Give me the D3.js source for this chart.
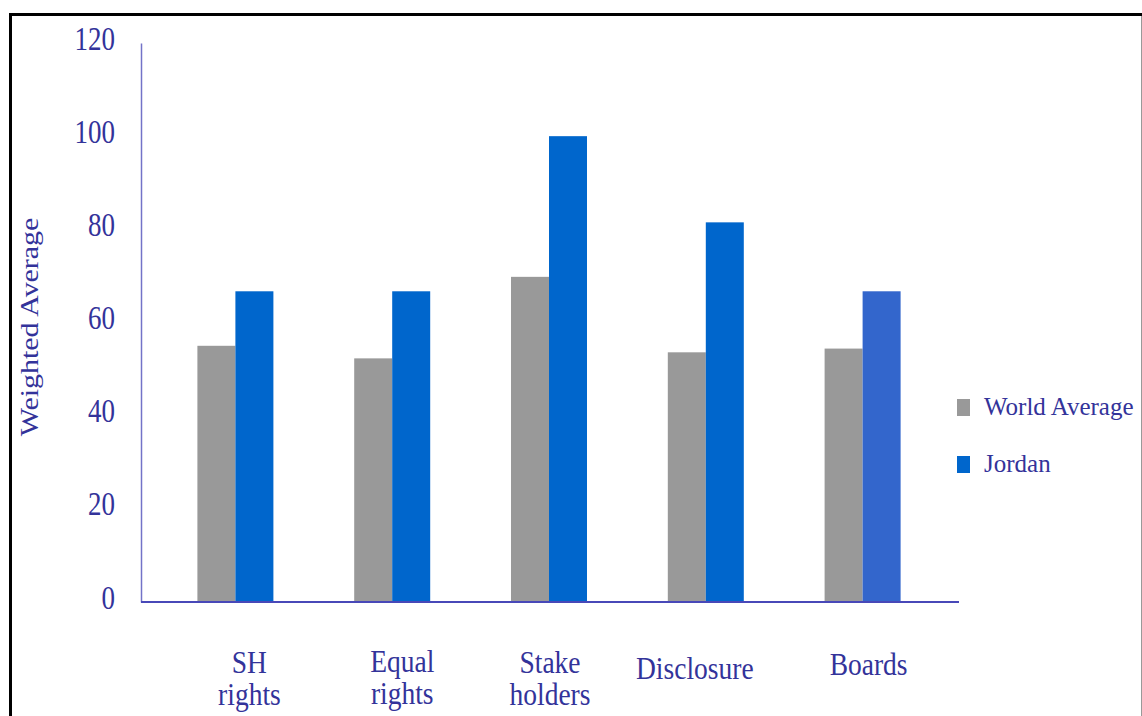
<!DOCTYPE html>
<html>
<head>
<meta charset="utf-8">
<script src="https://cdn.jsdelivr.net/npm/d3@7"></script>
<style>
  body { margin: 0; background: #fff; }
  svg text { font-family: "Liberation Serif", "Times New Roman", Times, serif; fill: #33339a; }
</style>
</head>
<body>
<svg id="chart" width="1142" height="716"></svg>
<script>
// data
const categories = ['SH rights', 'Equal rights', 'Stake holders', 'Disclosure', 'Boards'];
const categoryLines = [['SH', 'rights'], ['Equal', 'rights'], ['Stake', 'holders'], ['Disclosure'], ['Boards']];
const seriesNames = ['World Average', 'Jordan'];
const worldAverage = [55, 52.3, 69.8, 53.6, 54.4];
const jordan = [66.7, 66.7, 100, 81.5, 66.7];
const yTicks = [0, 20, 40, 60, 80, 100, 120];

const serif = '"Liberation Serif", "Times New Roman", Times, serif';
const seriesColors = ['#999999', '#0066cc'];
// the last Jordan bar is drawn in a slightly lighter blue in the original
const jordanOverride = { 'Boards': '#3366cc' };
// the category labels sit a little off the group centres
const labelNudge = [13, 9, 0, -12, 5];
const labelBaseline = [673, 672, 673, 679, 675];

const svg = d3.select('#chart');

// frame
svg.append('line').attr('x1', 10.5).attr('x2', 10.5).attr('y1', 13).attr('y2', 716)
	.attr('stroke', '#000').attr('stroke-width', 3);
svg.append('line').attr('x1', 9).attr('x2', 1142).attr('y1', 14.5).attr('y2', 14.5)
	.attr('stroke', '#000').attr('stroke-width', 3);
svg.append('line').attr('x1', 1141.5).attr('x2', 1141.5).attr('y1', 16).attr('y2', 716)
	.attr('stroke', '#999').attr('stroke-width', 1);

const y = d3.scaleLinear().domain([0, 120]).range([602, 43]);
const x = d3.scaleBand().domain(categories).range([158, 942]);
const inner = d3.scaleBand().domain(seriesNames).range([-39, 37]);

const rows = categories.map((c, i) => ({ cat: c, values: [worldAverage[i], jordan[i]] }));

const groups = svg.append('g')
	.selectAll('g.group')
	.data(rows)
	.enter().append('g')
	.attr('class', 'group')
	.attr('transform', d => `translate(${x(d.cat) + x.bandwidth() / 2},0)`);

groups.selectAll('rect')
	.data(d => d.values.map((v, k) => ({ cat: d.cat, series: seriesNames[k], k, v })))
	.enter().append('rect')
	.attr('x', d => inner(d.series))
	.attr('width', inner.bandwidth())
	.attr('y', d => y(d.v))
	.attr('height', d => y(0) - y(d.v))
	.attr('fill', d => d.k === 1 && jordanOverride[d.cat] ? jordanOverride[d.cat] : seriesColors[d.k]);

// y axis
const yAxis = svg.append('g')
	.attr('transform', 'translate(141,0)')
	.call(d3.axisLeft(y).tickValues(yTicks).tickSize(0).tickPadding(26));
yAxis.attr('font-family', serif);
yAxis.select('.domain').attr('stroke', '#7373c8').attr('stroke-width', 1.5);
yAxis.selectAll('text')
	.style('font-size', '27px')
	.attr('fill', '#33339a')
	.attr('dy', 5)
	.attr('transform', 'scale(1,1.22)');

// baseline
svg.append('line')
	.attr('x1', 141).attr('x2', 959)
	.attr('y1', y(0)).attr('y2', y(0))
	.attr('stroke', '#4848b8').attr('stroke-width', 2);

// category labels
const labels = svg.append('g')
	.selectAll('g')
	.data(categories)
	.enter().append('g')
	.attr('transform', (d, i) => `translate(${x(d) + x.bandwidth() / 2 + labelNudge[i]},${labelBaseline[i]}) scale(1,1.15)`)
	.append('text')
	.attr('text-anchor', 'middle')
	.style('font-size', '27.5px');
labels.each(function(d, i) {
	const t = d3.select(this);
	categoryLines[i].forEach((ln, j) => {
		t.append('tspan')
			.attr('x', 0)
			.attr('y', j * 28)
			.text(ln);
	});
});

// y axis title
svg.append('text')
	.attr('transform', 'translate(38,327) rotate(-90) scale(1.15,1)')
	.attr('text-anchor', 'middle')
	.style('font-size', '26px')
	.text('Weighted Average');

// legend
const legend = svg.append('g')
	.selectAll('g')
	.data(seriesNames)
	.enter().append('g')
	.attr('transform', (d, i) => `translate(957,${399 + i * 57})`);
legend.append('rect')
	.attr('width', 13).attr('height', 17)
	.attr('fill', (d, i) => seriesColors[i]);
legend.append('text')
	.attr('x', 27).attr('y', 16)
	.style('font-size', '25px')
	.attr('fill', '#2448a8')
	.text(d => d);
</script>
</body>
</html>
